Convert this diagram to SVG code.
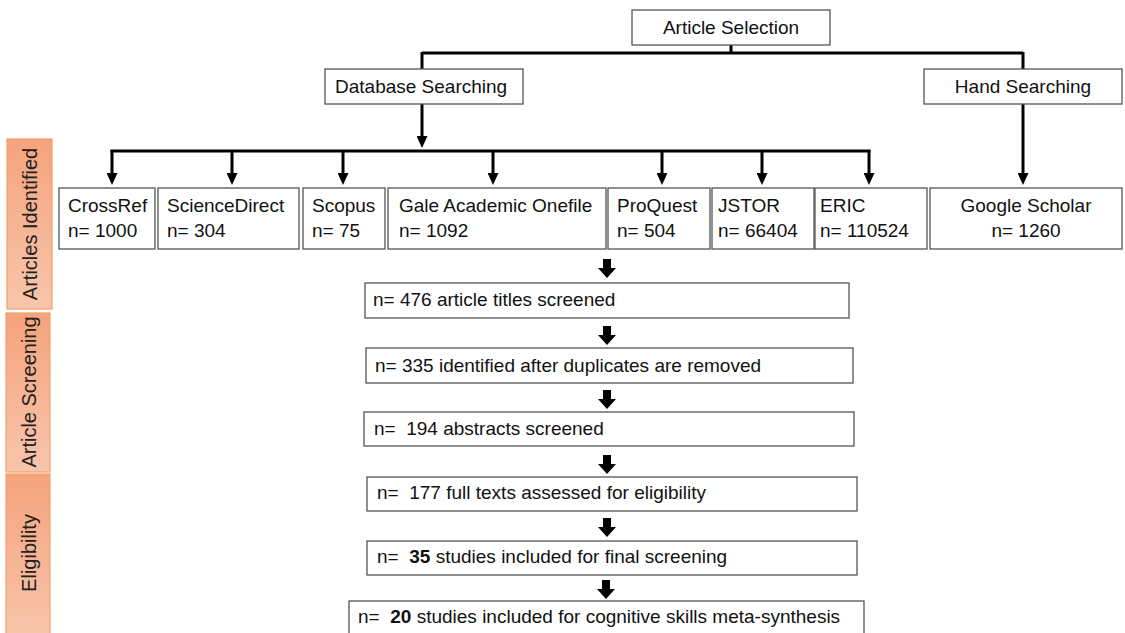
<svg xmlns="http://www.w3.org/2000/svg" width="1125" height="633" viewBox="0 0 1125 633">
<defs>
<style>
.bx{fill:#fff;stroke:#555;stroke-width:1.3}
.t{font-family:"Liberation Sans",Arial,sans-serif;font-size:19px;fill:#111}
.tc{text-anchor:middle}
.pre{white-space:pre}
.lbl{font-family:"Liberation Sans",Arial,sans-serif;font-size:20px;fill:#222;text-anchor:middle}
.bar{fill:url(#og);stroke:#F2A06C;stroke-width:1.2}
.ln{fill:none;stroke:#000;stroke-width:3}
.arr{fill:none;stroke:#000;stroke-width:3;marker-end:url(#ah)}
.blk{fill:#000}
</style>
<linearGradient id="og" x1="0" y1="0" x2="0" y2="1">
<stop offset="0" stop-color="#F5A37C"/>
<stop offset="1" stop-color="#F8C5AC"/>
</linearGradient>
<marker id="ah" markerUnits="userSpaceOnUse" viewBox="0 0 12 11" markerWidth="12" markerHeight="11" refX="4" refY="5.5" orient="auto">
<path d="M0,0 L12,5.5 L0,11 z" fill="#000"/>
</marker>
<path id="ba" d="M-4,0 H4 V9 H9 L0,19 L-9,9 H-4 z"/>
</defs>

<g id="phase-bars">
<g id="bar-identified"><rect class="bar" x="7" y="139" width="45" height="170"/><text class="lbl" transform="translate(37,224) rotate(-90)">Articles Identified</text></g>
<g id="bar-screening"><rect class="bar" x="6" y="313" width="44" height="159"/><text class="lbl" transform="translate(36,392) rotate(-90)">Article Screening</text></g>
<g id="bar-eligibility"><rect class="bar" x="6" y="474" width="44" height="166"/><text class="lbl" transform="translate(36,553) rotate(-90)">Eligibility</text></g>
</g>

<g id="connectors">
<path class="ln" d="M731,45 V53 M422,53 H1023 M422,52 V69 M1023,52 V69"/>
<path class="arr" d="M422,104 V140"/>
<path class="ln" d="M110.5,151 H870.5"/>
<path class="arr" d="M112,150 V177"/>
<path class="arr" d="M232,150 V177"/>
<path class="arr" d="M343,150 V177"/>
<path class="arr" d="M493,150 V177"/>
<path class="arr" d="M662,150 V177"/>
<path class="arr" d="M762,150 V177"/>
<path class="arr" d="M869,150 V177"/>
<path class="arr" d="M1023,104 V177"/>
<use href="#ba" class="blk" x="607" y="259"/>
<use href="#ba" class="blk" x="607" y="326"/>
<use href="#ba" class="blk" x="607" y="390"/>
<use href="#ba" class="blk" x="607" y="455"/>
<use href="#ba" class="blk" x="607" y="518"/>
<use href="#ba" class="blk" x="606" y="580"/>
</g>

<g id="article-selection"><rect class="bx" x="632" y="10" width="198" height="35"/><text class="t tc" x="731" y="34">Article Selection</text></g>
<g id="database-searching"><rect class="bx" x="325" y="69" width="198" height="35"/><text class="t" x="335" y="93">Database Searching</text></g>
<g id="hand-searching"><rect class="bx" x="924" y="69" width="198" height="35"/><text class="t tc" x="1023" y="93">Hand Searching</text></g>

<g id="crossref"><rect class="bx" x="59" y="188" width="96" height="61"/><text class="t" x="68" y="212">CrossRef</text><text class="t" x="68" y="237">n= 1000</text></g>
<g id="sciencedirect"><rect class="bx" x="158" y="188" width="141" height="61"/><text class="t" x="167" y="212">ScienceDirect</text><text class="t" x="167" y="237">n= 304</text></g>
<g id="scopus"><rect class="bx" x="303" y="188" width="82" height="61"/><text class="t" x="312" y="212">Scopus</text><text class="t" x="312" y="237">n= 75</text></g>
<g id="gale"><rect class="bx" x="388" y="188" width="218" height="61"/><text class="t" x="399" y="212">Gale Academic Onefile</text><text class="t" x="399" y="237">n= 1092</text></g>
<g id="proquest"><rect class="bx" x="608" y="188" width="102" height="61"/><text class="t" x="617" y="212">ProQuest</text><text class="t" x="617" y="237">n= 504</text></g>
<g id="jstor"><rect class="bx" x="712" y="188" width="102" height="61"/><text class="t" x="718" y="212">JSTOR</text><text class="t" x="718" y="237">n= 66404</text></g>
<g id="eric"><rect class="bx" x="815" y="188" width="112" height="61"/><text class="t" x="820" y="212">ERIC</text><text class="t" x="820" y="237">n= 110524</text></g>
<g id="google-scholar"><rect class="bx" x="930" y="188" width="192" height="61"/><text class="t tc" x="1026" y="212">Google Scholar</text><text class="t tc" x="1026" y="237">n= 1260</text></g>

<g id="titles-screened"><rect class="bx" x="365" y="283" width="484" height="35"/><text class="t pre" x="373" y="306">n= 476 article titles screened</text></g>
<g id="duplicates-removed"><rect class="bx" x="366" y="348" width="487" height="35"/><text class="t pre" x="375" y="372">n= 335 identified after duplicates are removed</text></g>
<g id="abstracts-screened"><rect class="bx" x="364" y="412" width="490" height="34"/><text class="t pre" x="374" y="435">n=  194 abstracts screened</text></g>
<g id="full-texts"><rect class="bx" x="367" y="477" width="490" height="34"/><text class="t pre" x="377" y="499">n=  177 full texts assessed for eligibility</text></g>
<g id="final-screening"><rect class="bx" x="367" y="541" width="490" height="34"/><text class="t pre" x="377" y="563">n=  <tspan font-weight="bold">35</tspan> studies included for final screening</text></g>
<g id="meta-synthesis"><rect class="bx" x="349" y="601" width="515" height="40"/><text class="t pre" x="358" y="623">n=  <tspan font-weight="bold">20</tspan> studies included for cognitive skills meta-synthesis</text></g>
</svg>
